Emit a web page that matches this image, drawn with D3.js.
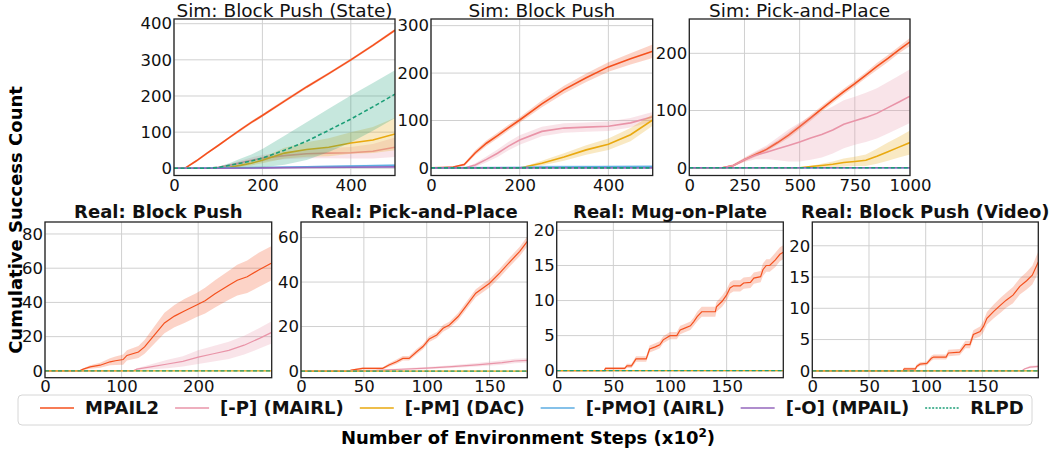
<!DOCTYPE html>
<html lang="en">
<head>
<meta charset="UTF-8">
<title>cumulative success</title>
<script src="https://d3js.org/d3.v7.min.js"></script>
<style>
  body { margin: 0; background: #fff; }
  svg { font-family: "DejaVu Sans", sans-serif; }
</style>
</head>
<body>
<svg id="chart" width="1056" height="450"></svg>
<script>
// series in legend order
const seriesNames = ["MPAIL2", "[-P] (MAIRL)", "[-PM] (DAC)", "[-PMO] (AIRL)", "[-O] (MPAIL)", "RLPD"];
const seriesColors = ["#f4511e", "#e994a8", "#e9a90f", "#5dade2", "#9467bd", "#1b9e77"];

/* Sim: Block Push (State) */
const stateX = [0, 25, 50, 75, 100, 125, 150, 175, 200, 250, 300, 350, 400, 450, 500];
const stateMpail2 = [0, 0, 20, 42, 63, 85, 106, 127, 146, 186, 225, 262, 300, 340, 382];
const stateMpail2Sd = [0, 0, 3, 3, 3, 3, 4, 4, 4, 4, 4, 4, 4, 4, 4];
const stateMairl = [0, 0, 0, 0, 3, 8, 15, 22, 28, 35, 40, 42, 43, 47, 58];
const stateMairlSd = [0, 0, 0, 0, 2, 4, 6, 8, 9, 10, 12, 14, 16, 20, 27];
const stateDac = [0, 0, 0, 0, 0, 3, 8, 14, 22, 42, 52, 58, 70, 78, 95];
const stateDacSd = [0, 0, 0, 0, 0, 2, 4, 6, 8, 15, 20, 25, 30, 36, 45];
const stateRlpd = [0, 0, 0, 0, 2, 8, 14, 20, 28, 50, 75, 105, 136, 170, 205];
const stateRlpdSd = [0, 0, 0, 0, 2, 6, 12, 18, 25, 40, 52, 60, 65, 66, 66];
const stateLowX = [0, 100, 200, 300, 400, 500];
const stateAirl = [0, 1, 2, 4, 6, 8];
const stateAirlSd = [0, 1, 2, 2, 3, 3];
const stateMpail = [0, 0, 1, 2, 3, 4];
const stateMpailSd = [0, 0.5, 1, 1, 1.5, 2];

/* Sim: Block Push */
const pushX = [0, 25, 50, 75, 100, 125, 150, 175, 200, 250, 300, 350, 400, 450, 500];
const pushMpail2 = [0, 1, 2, 7, 32, 52, 68, 85, 101, 135, 165, 190, 213, 230, 246];
const pushMpail2Sd = [0, 0, 1, 3, 5, 6, 6, 6, 6, 7, 8, 9, 10, 12, 14];
const pushMairl = [0, 0, 0, 0, 6, 18, 31, 46, 59, 77, 84, 86, 88, 95, 108];
const pushMairlSd = [0, 0, 0, 0, 4, 6, 8, 9, 10, 10, 10, 10, 10, 10, 10];
const pushDac = [0, 0, 0, 0, 0, 0, 0, 0, 0, 10, 23, 38, 50, 70, 101];
const pushDacSd = [0, 0, 0, 0, 0, 0, 0, 0, 0, 5, 8, 10, 12, 14, 12];
const pushAirlX = [0, 200, 250, 500];
const pushAirl = [0, 1, 2, 3];
const pushAirlSd = [0, 2, 3, 3];

/* Sim: Pick-and-Place */
const pickX = [0, 100, 150, 200, 250, 300, 350, 400, 450, 500, 550, 600, 650, 700, 750, 800, 850, 900, 950, 1000];
const pickMpail2 = [0, 0, 0, 4, 14, 23, 32, 44, 57, 72, 87, 103, 118, 133, 147, 162, 177, 191, 206, 220];
const pickMpail2Sd = [0, 0, 1, 2, 3, 4, 4, 4, 5, 5, 5, 5, 5, 5, 5, 5, 6, 6, 6, 7];
const pickMairl = [0, 0, 0, 4, 14, 22, 27, 33, 39, 45, 52, 58, 66, 76, 82, 88, 95, 105, 115, 125];
const pickMairlSd = [0, 0, 1, 2, 4, 7, 12, 20, 28, 34, 38, 40, 41, 42, 42, 43, 44, 45, 46, 47];
const pickDac = [0, 0, 0, 0, 0, 0, 0, 0, 0, 0, 2, 4, 6, 9, 11, 13, 20, 28, 36, 44];
const pickDacSd = [0, 0, 0, 0, 0, 0, 0, 0, 0, 0, 1, 3, 5, 7, 8, 10, 13, 16, 18, 21];

/* Real: Block Push */
const realPushX = [0, 45, 50, 59, 72, 85, 92, 102, 107, 122, 130, 143, 156, 169, 182, 198, 209, 222, 240, 251, 264, 279, 296];
const realPushMpail2 = [0, 0, 1, 2.3, 3.3, 5.3, 5.9, 6.6, 9, 11, 14, 21, 28, 32, 35, 38.5, 41, 45, 50, 53, 55, 59, 63];
const realPushMpail2Sd = [0, 0, 0.5, 1, 1.5, 2, 2.5, 3, 3, 3.5, 4, 5, 6, 6.5, 7, 7, 7.5, 8, 8.5, 9, 9.5, 10, 10];
const realPushMairlX = [0, 115, 120, 140, 160, 180, 200, 220, 240, 260, 280, 296];
const realPushMairl = [0, 0, 1, 2.5, 4, 5.5, 8, 10, 12, 15, 19, 22.5];
const realPushMairlSd = [0, 0, 0.5, 1.5, 2.5, 3, 4, 4.5, 5, 5.5, 6, 6.5];

/* Real: Pick-and-Place */
const realPickX = [0, 38, 40, 49, 65, 70, 76, 81, 86, 92, 97, 102, 108, 113, 118, 125, 131, 139, 150, 158, 166, 174, 180];
const realPickMpail2 = [0, 0, 0.4, 1.2, 1.2, 2.7, 4.2, 5.7, 5.7, 8.7, 11, 14.4, 16.2, 19.2, 20.7, 24.5, 29, 35, 39.5, 44, 49, 53.8, 58.3];
const realPickMpail2Sd = [0, 0, 0.3, 0.5, 0.5, 0.8, 1, 1, 1, 1.2, 1.2, 1.3, 1.4, 1.5, 1.5, 1.6, 1.7, 1.8, 1.9, 2, 2, 2.1, 2.2];
const realPickMairlX = [0, 60, 80, 100, 120, 140, 160, 170, 180];
const realPickMairl = [0, 0.3, 0.8, 1.3, 2, 2.8, 3.8, 4.5, 4.8];
const realPickMairlSd = [0, 0.3, 0.4, 0.5, 0.6, 0.8, 1, 1, 1];

/* Real: Mug-on-Plate */
const mugX = [0, 42, 43, 60, 62, 66, 70, 79, 82, 87, 91, 94, 100, 106, 109, 112, 118, 121, 124, 128,
  140, 141, 146, 150, 153, 156, 162, 165, 171, 174, 180, 182, 185, 188, 193, 197, 200];
const mugMpail2 = [0, 0, 0.33, 0.33, 0.7, 0.7, 1.67, 1.67, 3.1, 3.4, 3.7, 4.4, 5, 5, 5.8, 6, 6.4, 7, 7.7, 8.4,
  8.4, 9.1, 9.9, 10.8, 11.8, 12.1, 12.1, 12.5, 12.6, 13.2, 13.4, 14.4, 15, 15, 15.8, 16.6, 16.9];
const mugMpail2Sd = [0, 0, 0.2, 0.2, 0.3, 0.3, 0.4, 0.4, 0.5, 0.5, 0.5, 0.5, 0.5, 0.5, 0.6, 0.6, 0.6, 0.6, 0.7, 0.7,
  0.7, 0.7, 0.8, 0.8, 0.8, 0.8, 0.8, 0.8, 0.8, 0.8, 0.8, 0.9, 0.9, 0.9, 1, 1, 1];

/* Real: Block Push (Video) */
const videoX = [0, 80, 81, 91, 92, 95, 101, 105, 107, 118, 120, 130, 135, 139, 142, 148, 151, 154, 160, 166, 171, 177, 183, 189, 194, 199.3];
const videoMpail2 = [0, 0, 0.32, 0.32, 0.7, 1.07, 1.2, 2, 2.2, 2.2, 2.85, 3, 4.2, 4.2, 5.8, 6.3, 7.1, 8.4, 9.5, 10.5, 11.3, 12.1, 13.5, 14.4, 15.3, 17.4];
const videoMpail2Sd = [0, 0, 0.2, 0.2, 0.3, 0.3, 0.3, 0.4, 0.4, 0.4, 0.5, 0.5, 0.6, 0.6, 0.7, 0.8, 0.9, 1, 1.1, 1.2, 1.2, 1.3, 1.3, 1.4, 1.5, 1.7];
const videoMairlX = [0, 185, 187, 192, 199.3];
const videoMairl = [0, 0, 0.3, 0.6, 0.7];
const videoMairlSd = [0, 0, 0.1, 0.2, 0.2];

const ser = (x, y, sd) => ({x, y, sd});
const zero = xmax => ser([0, xmax], [0, 0], [0, 0]);

// real-robot runs only have MPAIL2, MAIRL, DAC and RLPD
const panels = [
  { title: "Sim: Block Push (State)", bold: false, box: [174, 395, 19, 175.5], lw: 1.6, pad: 4,
    xDomain: [0, 500], yDomain: [-20, 413], xTicks: [0, 200, 400], yTicks: [0, 100, 200, 300, 400],
    series: [ser(stateX, stateMpail2, stateMpail2Sd), ser(stateX, stateMairl, stateMairlSd),
             ser(stateX, stateDac, stateDacSd), ser(stateLowX, stateAirl, stateAirlSd),
             ser(stateLowX, stateMpail, stateMpailSd), ser(stateX, stateRlpd, stateRlpdSd)] },
  { title: "Sim: Block Push", bold: false, box: [431, 652.7, 19, 175.5], lw: 1.6, pad: 4,
    xDomain: [0, 500], yDomain: [-16, 314], xTicks: [0, 200, 400], yTicks: [0, 100, 200, 300],
    series: [ser(pushX, pushMpail2, pushMpail2Sd), ser(pushX, pushMairl, pushMairlSd),
             ser(pushX, pushDac, pushDacSd), ser(pushAirlX, pushAirl, pushAirlSd),
             zero(500), zero(500)] },
  { title: "Sim: Pick-and-Place", bold: false, box: [689.3, 910, 19, 175.5], lw: 1.6, pad: 4,
    xDomain: [0, 1000], yDomain: [-13.6, 260], xTicks: [0, 250, 500, 750, 1000], yTicks: [0, 100, 200],
    series: [ser(pickX, pickMpail2, pickMpail2Sd), ser(pickX, pickMairl, pickMairlSd),
             ser(pickX, pickDac, pickDacSd), zero(1000), zero(1000), zero(1000)] },
  { title: "Real: Block Push", bold: true, box: [45, 271.7, 222, 377.7], lw: 1.2, pad: 2.5,
    xDomain: [0, 296], yDomain: [-4, 87], xTicks: [0, 100, 200], yTicks: [0, 20, 40, 60, 80],
    series: [ser(realPushX, realPushMpail2, realPushMpail2Sd), ser(realPushMairlX, realPushMairl, realPushMairlSd),
             zero(296), null, null, zero(296)] },
  { title: "Real: Pick-and-Place", bold: true, box: [301, 527.3, 222, 377.7], lw: 1.2, pad: 2.5,
    xDomain: [0, 180], yDomain: [-3, 67], xTicks: [0, 50, 100, 150], yTicks: [0, 20, 40, 60],
    series: [ser(realPickX, realPickMpail2, realPickMpail2Sd), ser(realPickMairlX, realPickMairl, realPickMairlSd),
             zero(180), null, null, zero(180)] },
  { title: "Real: Mug-on-Plate", bold: true, box: [556.7, 783.3, 222, 377.7], lw: 1.2, pad: 2.5,
    xDomain: [0, 200], yDomain: [-1, 21.2], xTicks: [0, 50, 100, 150], yTicks: [0, 5, 10, 15, 20],
    series: [ser(mugX, mugMpail2, mugMpail2Sd), zero(200), zero(200), null, null, zero(200)] },
  { title: "Real: Block Push (Video)", bold: true, box: [812.3, 1038.3, 222, 377.7], lw: 1.2, pad: 2.5,
    xDomain: [0, 199.3], yDomain: [-1.1, 23.8], xTicks: [0, 50, 100, 150], yTicks: [0, 5, 10, 15, 20],
    series: [ser(videoX, videoMpail2, videoMpail2Sd), ser(videoMairlX, videoMairl, videoMairlSd),
             zero(199.3), null, null, zero(199.3)] }
];

const svg = d3.select("#chart");
const defs = svg.append("defs");
const fmt = d3.format("d");
const tickFont = 16.5;

panels.forEach((p, pi) => {
  const [l, r, t, b] = p.box;
  const x = d3.scaleLinear().domain(p.xDomain).range([l, r]);
  const y = d3.scaleLinear().domain(p.yDomain).range([b, t]);
  const g = svg.append("g");

  defs.append("clipPath").attr("id", "clip" + pi)
    .append("rect").attr("x", l).attr("y", t).attr("width", r - l).attr("height", b - t);

  // grid
  g.append("g").selectAll("line").data(p.xTicks).join("line")
    .attr("x1", d => x(d)).attr("x2", d => x(d)).attr("y1", t).attr("y2", b)
    .attr("stroke", "#d0d0d0").attr("stroke-width", 1);
  g.append("g").selectAll("line").data(p.yTicks).join("line")
    .attr("x1", l).attr("x2", r).attr("y1", d => y(d)).attr("y2", d => y(d))
    .attr("stroke", "#d0d0d0").attr("stroke-width", 1);

  const plot = g.append("g").attr("clip-path", `url(#clip${pi})`);
  p.series.forEach((s, si) => {
    if (!s) return;
    const pts = s.x.map((xv, i) => ({x: xv, y: s.y[i], sd: s.sd[i]}));
    const area = d3.area().x(d => x(d.x)).y0(d => y(d.y - d.sd)).y1(d => y(d.y + d.sd));
    const line = d3.line().x(d => x(d.x)).y(d => y(d.y));
    plot.append("path").datum(pts).attr("d", area)
      .attr("fill", seriesColors[si]).attr("fill-opacity", 0.25);
    plot.append("path").datum(pts).attr("d", line)
      .attr("fill", "none").attr("stroke", seriesColors[si]).attr("stroke-width", p.lw)
      .attr("stroke-dasharray", si === 5 ? "4,2.5" : null);
  });

  // axes, labels only
  g.append("g").attr("transform", `translate(0,${b})`)
    .call(d3.axisBottom(x).tickValues(p.xTicks).tickFormat(fmt).tickSize(0).tickPadding(p.pad))
    .call(a => a.select(".domain").remove())
    .attr("font-size", tickFont).attr("font-family", null)
    .selectAll("text").attr("fill", "#111");
  g.append("g").attr("transform", `translate(${l},0)`)
    .call(d3.axisLeft(y).tickValues(p.yTicks).tickFormat(fmt).tickSize(0).tickPadding(2))
    .call(a => a.select(".domain").remove())
    .attr("font-size", tickFont).attr("font-family", null)
    .selectAll("text").attr("fill", "#111");

  // frame
  g.append("rect").attr("x", l).attr("y", t).attr("width", r - l).attr("height", b - t)
    .attr("fill", "none").attr("stroke", "#222").attr("stroke-width", 1.3);

  g.append("text").attr("x", (l + r) / 2).attr("y", p.bold ? 217.5 : 16.5)
    .attr("text-anchor", "middle").attr("font-size", p.bold ? 18 : 18.5)
    .attr("font-weight", p.bold ? "bold" : "normal").attr("fill", "#111")
    .text(p.title);
});

// y label
svg.append("text")
  .attr("transform", "translate(22,220) rotate(-90)")
  .attr("text-anchor", "middle").attr("font-size", 18).attr("font-weight", "bold")
  .text("Cumulative Success Count");

// legend
const leg = svg.append("g");
leg.append("rect").attr("x", 18).attr("y", 395).attr("width", 1014).attr("height", 30).attr("rx", 4)
  .attr("fill", "#fff").attr("fill-opacity", 0.85).attr("stroke", "#d6d6d6").attr("stroke-width", 1);
let lx = 40;
seriesNames.forEach((name, i) => {
  leg.append("line").attr("x1", lx).attr("x2", lx + 34).attr("y1", 408).attr("y2", 408)
    .attr("stroke", seriesColors[i]).attr("stroke-width", 1.4)
    .attr("stroke-dasharray", i === 5 ? "2,1.5" : null);
  const txt = leg.append("text").attr("x", lx + 45).attr("y", 414)
    .attr("font-size", 18).attr("font-weight", "bold").attr("fill", "#111").text(name);
  lx += 45 + txt.node().getComputedTextLength() + 16;
});

// x label
const xl = svg.append("text").attr("x", 528).attr("y", 444)
  .attr("text-anchor", "middle").attr("font-size", 18).attr("font-weight", "bold");
xl.append("tspan").text("Number of Environment Steps (x10");
xl.append("tspan").attr("dy", -7).attr("font-size", 12).text("2");
xl.append("tspan").attr("dy", 7).text(")");
</script>
</body>
</html>
